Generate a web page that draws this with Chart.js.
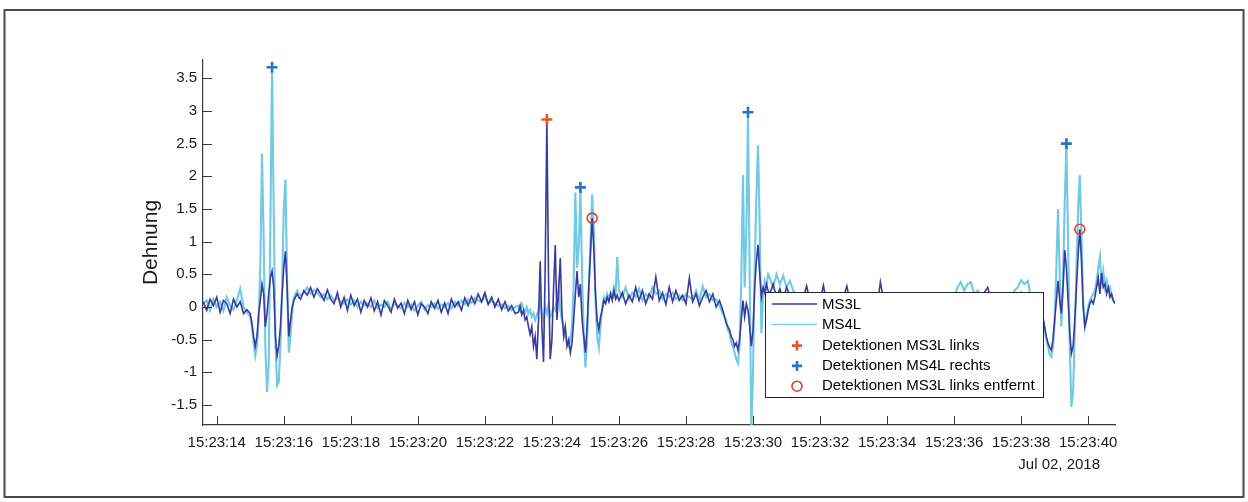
<!DOCTYPE html>
<html>
<head>
<meta charset="utf-8">
<script src="https://cdn.jsdelivr.net/npm/chart.js@4.4.1/dist/chart.umd.min.js"></script>
<style>
  html, body { margin: 0; padding: 0; background: #ffffff; }
  canvas { display: block; }
</style>
</head>
<body>
<canvas id="strain" width="1248" height="502"></canvas>
<script>
// Strain record 15:23:13.6 – 15:23:40.8 (seconds after 15:23:00), two gauges.
// Samples are stored per recording segment: time, MS3L value, MS4L value.

// quiet start
const secA  = [13.6,13.7,13.8,13.9,14.0,14.1,14.2,14.3,14.4,14.5,14.6,14.7,14.8,14.9];
const ms3lA = [0.08,-0.05,0.12,0.02,0.15,-0.08,0.1,0.05,-0.1,0.12,0.0,0.08,-0.1,-0.04];
const ms4lA = [0.05,0.1,-0.05,0.12,0.0,0.08,-0.06,0.15,0.02,-0.04,0.1,0.28,0.0,-0.08];

// first crossing
const secB  = [15.0,15.05,15.1,15.15,15.2,15.25,15.3,15.35,15.4,15.45,
               15.5,15.55,15.6,15.65,15.7,15.75,15.8,15.85,15.9,15.95,
               16.0,16.05,16.1,16.15,16.2,16.25,16.3,16.35,16.4,16.45];
const ms3lB = [-0.1,-0.25,-0.45,-0.6,-0.45,-0.1,0.1,0.35,0.2,-0.3,
               -0.1,0.2,0.45,0.55,0.3,-0.45,-0.75,-0.6,-0.3,0.2,
               0.6,0.85,0.3,-0.45,-0.2,0.0,0.1,0.15,0.2,0.15];
const ms4lB = [-0.15,-0.3,-0.55,-0.75,-0.6,-0.2,0.6,2.35,1.0,-0.6,
               -1.3,-0.9,1.2,3.67,1.5,-0.5,-1.2,-1.15,-0.6,0.3,
               1.5,1.95,0.4,-0.7,-0.45,-0.1,0.15,0.2,0.25,0.2];

// quiet
const secC  = [16.5,16.6,16.7,16.8,16.9,17.0,17.1,17.2,17.3,17.4,
               17.5,17.6,17.7,17.8,17.9,18.0,18.1,18.2,18.3,18.4,
               18.5,18.6,18.7,18.8,18.9,19.0,19.1,19.2,19.3,19.4,
               19.5,19.6,19.7,19.8,19.9,20.0,20.1,20.2,20.3,20.4,
               20.5,20.6,20.7,20.8,20.9,21.0,21.1,21.2,21.3,21.4,
               21.5,21.6,21.7,21.8,21.9,22.0,22.1,22.2,22.3,22.4,
               22.5,22.6,22.7,22.8,22.9];
const ms3lC = [0.12,0.25,0.18,0.3,0.15,0.28,0.2,0.1,0.26,0.12,
               0.05,0.22,0.0,0.15,-0.05,0.18,0.02,0.12,-0.08,0.1,
               0.0,0.14,-0.06,0.08,-0.12,0.1,0.02,-0.08,0.12,-0.02,
               0.06,-0.1,0.1,-0.04,0.08,-0.12,0.05,0.0,-0.1,0.08,
               -0.02,0.1,-0.08,0.06,-0.1,0.12,0.0,0.08,-0.05,0.14,
               0.02,0.16,0.05,0.2,0.08,0.22,0.04,0.15,0.0,0.12,
               -0.04,0.08,-0.06,0.02,-0.1];
const ms4lC = [0.18,0.22,0.3,0.2,0.26,0.22,0.15,0.2,0.12,0.18,
               0.1,0.14,0.08,0.05,0.12,0.04,0.1,0.0,0.08,0.02,
               0.06,0.0,0.1,-0.02,0.04,0.0,0.08,-0.04,0.05,0.02,
               -0.02,0.06,0.0,0.04,-0.06,0.02,0.08,-0.04,0.03,0.0,
               0.05,-0.03,0.04,0.0,0.06,-0.02,0.08,0.02,0.1,0.04,
               0.12,0.06,0.14,0.1,0.08,0.16,0.05,0.1,0.06,0.02,
               0.04,-0.02,0.02,-0.05,0.0];

// second crossing
const secD  = [23.0,23.05,23.1,23.15,23.2,23.25,23.3,23.35,23.4,23.45,
               23.5,23.55,23.6,23.65,23.7,23.75,23.8,23.85,23.9,23.95,
               24.0,24.05,24.1,24.15,24.2,24.25,24.3,24.35,24.4,24.45,
               24.5,24.55,24.6,24.65,24.7,24.75,24.8,24.85,24.9,24.95,
               25.0,25.05,25.1,25.15,25.2,25.25,25.3,25.35,25.4,25.45,
               25.5,25.55,25.6,25.65,25.7,25.75,25.8,25.85,25.9,25.95];
const ms3lD = [-0.08,0.02,-0.12,-0.05,-0.2,-0.15,-0.3,-0.42,-0.3,-0.6,
               -0.45,-0.8,-0.2,0.7,-0.3,-0.84,0.6,2.87,0.4,-0.8,
               -0.5,0.3,0.95,-0.2,0.25,0.75,-0.1,-0.45,-0.3,-0.6,
               -0.5,-0.7,-0.55,-0.2,0.2,0.55,0.15,0.35,-0.2,-0.45,
               -0.7,-0.3,0.3,0.8,1.36,0.9,0.2,-0.2,-0.35,-0.15,
               -0.05,0.1,0.05,0.15,0.08,0.2,0.1,0.25,0.12,0.18];
const ms4lD = [0.02,-0.05,0.05,-0.02,-0.08,0.0,-0.1,-0.05,-0.15,-0.1,
               -0.2,-0.12,-0.05,0.1,-0.1,-0.2,0.0,-0.1,0.05,-0.15,
               -0.1,0.0,-0.05,0.1,0.3,-0.05,-0.2,-0.3,-0.45,-0.55,
               -0.6,-0.5,-0.3,0.4,1.75,0.6,0.9,1.83,0.5,-0.4,
               -0.93,-0.5,0.3,1.0,1.72,1.2,0.1,-0.45,-0.62,-0.3,
               0.0,0.15,0.1,0.2,0.12,0.22,0.15,0.3,0.2,0.77];

// quiet
const secE  = [26.0,26.1,26.2,26.3,26.4,26.5,26.6,26.7,26.8,26.9,
               27.0,27.1,27.2,27.3,27.4,27.5,27.6,27.7,27.8,27.9,
               28.0,28.1,28.2,28.3,28.4,28.5,28.6,28.7,28.8,28.9,
               29.0,29.1,29.2];
const ms3lE = [0.1,0.22,0.05,0.18,0.08,0.3,0.1,0.25,0.05,0.2,
               0.12,0.46,0.1,0.22,0.04,0.3,0.08,0.25,0.1,0.18,
               0.05,0.44,0.08,0.2,0.02,0.15,0.25,0.08,0.2,0.0,
               0.1,-0.05,-0.25];
const ms4lE = [0.25,0.15,0.3,0.12,0.22,0.15,0.28,0.1,0.2,0.14,
               0.3,0.2,0.25,0.12,0.2,0.15,0.22,0.12,0.18,0.1,
               0.2,0.15,0.12,0.25,0.1,0.32,0.15,0.2,0.1,0.12,
               0.02,-0.1,-0.2];

// third crossing
const secF  = [29.25,29.3,29.35,29.4,29.45,29.5,29.55,29.6,29.65,29.7,
               29.75,29.8,29.85,29.9,29.95,30.0,30.05,30.1,30.15,30.2,
               30.25,30.3,30.35,30.4,30.45];
const ms3lF = [-0.3,-0.35,-0.45,-0.5,-0.6,-0.55,-0.66,-0.5,-0.2,0.1,
               -0.15,0.05,-0.05,-0.3,-0.6,-0.35,0.3,0.7,0.95,0.5,
               0.15,0.3,0.22,0.35,0.25];
const ms4lF = [-0.35,-0.4,-0.55,-0.6,-0.7,-0.8,-0.86,-0.6,0.4,2.02,
               0.3,1.1,2.98,0.5,-1.9,-1.0,0.6,1.7,2.48,1.2,
               -0.4,0.15,0.4,0.3,0.5];

// quiet
const secG  = [30.5,30.6,30.7,30.8,30.9,31.0,31.1,31.2,31.3,31.4,
               31.5,31.6,31.7,31.8,31.9,32.0,32.1,32.2,32.3,32.4,
               32.5,32.6,32.7,32.8,32.9,33.0,33.1,33.2,33.3,33.4,
               33.5,33.6,33.7,33.8,33.9,34.0,34.1,34.2,34.3,34.4,
               34.5,34.6,34.7,34.8,34.9,35.0,35.1,35.2,35.3,35.4,
               35.5,35.6,35.7,35.8,35.9,36.0,36.1,36.2,36.3,36.4,
               36.5,36.6,36.7,36.8,36.9,37.0,37.1,37.2,37.3,37.4,
               37.5,37.6,37.7,37.8,37.9,38.0,38.1,38.2,38.3,38.4,
               38.5];
const ms3lG = [0.2,0.35,0.15,0.28,0.1,0.3,0.18,0.05,0.2,0.1,
               0.15,0.32,0.08,0.12,0.0,0.1,0.33,0.05,0.12,0.02,
               0.1,0.0,0.15,0.32,0.05,0.12,-0.02,0.1,0.05,0.15,
               0.02,0.12,0.0,0.38,0.1,0.05,0.15,0.0,0.1,0.05,
               0.12,-0.02,0.1,0.05,0.15,0.0,0.1,0.08,0.12,0.02,
               0.1,0.05,0.15,0.0,0.12,0.08,0.18,0.05,0.15,0.1,
               0.2,0.08,0.15,0.1,0.22,0.3,0.12,0.2,0.05,0.15,
               0.1,0.2,0.05,0.15,0.1,0.22,0.08,0.1,0.0,-0.05,
               -0.1];
const ms4lG = [0.45,0.3,0.5,0.35,0.48,0.3,0.4,0.25,0.2,0.15,
               0.2,0.12,0.18,0.1,0.15,0.12,0.2,0.1,0.15,0.08,
               0.12,0.1,0.15,0.08,0.12,0.1,0.05,0.12,0.1,0.08,
               0.1,0.05,0.12,0.1,0.08,0.12,0.05,0.1,0.08,0.12,
               0.05,0.1,0.08,0.12,0.1,0.05,0.12,0.1,0.15,0.08,
               0.12,0.1,0.15,0.12,0.2,0.15,0.3,0.38,0.25,0.35,
               0.38,0.2,0.25,0.18,0.22,0.15,0.2,0.18,0.15,0.2,
               0.15,0.2,0.12,0.25,0.3,0.41,0.35,0.4,0.1,0.0,
               -0.05];

// fourth crossing
const secH  = [38.55,38.6,38.65,38.7,38.75,38.8,38.85,38.9,38.95,39.0,
               39.05,39.1,39.15,39.2,39.25,39.3,39.35,39.4,39.45,39.5,
               39.55,39.6,39.65,39.7,39.75,39.8,39.85,39.9,39.95,40.0,
               40.05,40.1,40.15,40.2,40.25,40.3,40.35,40.4,40.45,40.5,
               40.55,40.6,40.65,40.7,40.75,40.8];
const ms3lH = [-0.1,-0.12,-0.15,-0.3,-0.45,-0.55,-0.62,-0.66,-0.5,-0.2,
               0.1,0.4,0.1,-0.1,0.3,0.87,0.6,0.1,-0.4,-0.71,
               -0.6,-0.2,0.3,0.8,1.19,0.7,0.0,-0.3,-0.2,-0.05,
               0.05,0.1,0.05,0.15,0.3,0.45,0.2,0.52,0.3,0.35,
               0.2,0.3,0.15,0.2,0.1,0.05];
const ms4lH = [-0.1,-0.15,-0.2,-0.35,-0.5,-0.6,-0.72,-0.76,-0.6,-0.2,
               0.6,1.5,0.5,-0.3,0.4,1.6,2.5,1.0,-0.6,-1.53,
               -1.3,-0.4,0.6,1.5,2.02,1.1,0.1,-0.3,-0.15,0.0,
               0.1,0.15,0.2,0.25,0.4,0.6,0.77,0.35,0.55,0.3,
               0.4,0.25,0.3,0.15,0.1,0.05];

// detections
const detMs3lSec = [23.85];
const detMs3lVal = [2.87];
const detMs4lSec = [15.65, 24.85, 29.85, 39.35];
const detMs4lVal = [3.67, 1.83, 2.98, 2.5];
const removedSec = [25.2, 39.75];
const removedVal = [1.36, 1.19];

// axes
const xTickSec = [14,16,18,20,22,24,26,28,30,32,34,36,38,40];
const yTickVal = [-1.5,-1,-0.5,0,0.5,1,1.5,2,2.5,3,3.5];
const dateText = 'Jul 02, 2018';

const sampleSec = [...secA, ...secB, ...secC, ...secD, ...secE, ...secF, ...secG, ...secH];
const ms3l = [...ms3lA, ...ms3lB, ...ms3lC, ...ms3lD, ...ms3lE, ...ms3lF, ...ms3lG, ...ms3lH];
const ms4l = [...ms4lA, ...ms4lB, ...ms4lC, ...ms4lD, ...ms4lE, ...ms4lF, ...ms4lG, ...ms4lH];
if (sampleSec.length !== ms3l.length || sampleSec.length !== ms4l.length) {
  throw new Error('sample count mismatch: ' + sampleSec.length + ' / ' + ms3l.length + ' / ' + ms4l.length);
}

const toPoints = (xs, ys) => xs.map((x, i) => ({ x, y: ys[i] }));

const FONT = '"Liberation Sans", Arial, Helvetica, sans-serif';
const AXIS = '#3a3a3a';
const TEXT = '#1a1a1a';
const DARK = '#383b9c';
const LIGHT = '#72c9e4';
const ORANGE = '#e4572a';
const BLUE = '#2a74c6';
const RED = '#e3402a';

// white page with a thin outer frame
const pageFrame = {
  id: 'pageFrame',
  beforeDraw(chart) {
    const { ctx, width, height } = chart;
    ctx.save();
    ctx.fillStyle = '#ffffff';
    ctx.fillRect(0, 0, width, height);
    ctx.strokeStyle = '#4a4a4a';
    ctx.lineWidth = 2;
    ctx.strokeRect(4.5, 10, 1239, 487);
    ctx.restore();
  }
};

// tick marks pointing into the plot area
const innerTicks = {
  id: 'innerTicks',
  afterDatasetsDraw(chart) {
    const { ctx, chartArea, scales } = chart;
    ctx.save();
    ctx.strokeStyle = AXIS;
    ctx.lineWidth = 1;
    ctx.beginPath();
    scales.x.ticks.forEach(t => {
      const px = Math.round(scales.x.getPixelForValue(t.value)) + 0.5;
      ctx.moveTo(px, chartArea.bottom);
      ctx.lineTo(px, chartArea.bottom - 9);
    });
    scales.y.ticks.forEach(t => {
      const py = Math.round(scales.y.getPixelForValue(t.value)) + 0.5;
      ctx.moveTo(chartArea.left, py);
      ctx.lineTo(chartArea.left + 9, py);
    });
    ctx.stroke();
    ctx.restore();
  }
};

// date under the time axis
const dateStamp = {
  id: 'dateStamp',
  afterDraw(chart) {
    const { ctx, chartArea, scales } = chart;
    const last = xTickSec[xTickSec.length - 1];
    ctx.save();
    ctx.font = '15px ' + FONT;
    ctx.fillStyle = TEXT;
    ctx.textAlign = 'center';
    ctx.textBaseline = 'middle';
    ctx.fillText(dateText, scales.x.getPixelForValue(last) - 29, chartArea.bottom + 40);
    ctx.restore();
  }
};

// boxed legend inside the plot, lower right
const boxLegend = {
  id: 'boxLegend',
  afterDraw(chart) {
    const { ctx } = chart;
    const x0 = 765.5, y0 = 292.5, w = 278, h = 105, rowH = 20.3;
    const ds = chart.data.datasets;
    const order = [3, 4, 0, 1, 2];
    ctx.save();
    ctx.fillStyle = '#ffffff';
    ctx.fillRect(x0, y0, w, h);
    ctx.strokeStyle = '#262626';
    ctx.lineWidth = 1;
    ctx.strokeRect(x0, y0, w, h);
    ctx.font = '15px ' + FONT;
    ctx.textAlign = 'left';
    ctx.textBaseline = 'middle';
    order.forEach((idx, i) => {
      const d = ds[idx];
      const cy = y0 + 12.5 + i * rowH;
      const cx = 797;
      ctx.strokeStyle = d.borderColor;
      if (d.showLine === false) {
        ctx.lineWidth = d.pointBorderWidth;
        ctx.beginPath();
        if (d.pointStyle === 'cross') {
          ctx.moveTo(cx - 5, cy); ctx.lineTo(cx + 5, cy);
          ctx.moveTo(cx, cy - 5); ctx.lineTo(cx, cy + 5);
        } else {
          ctx.arc(cx, cy, 5, 0, Math.PI * 2);
        }
        ctx.stroke();
      } else {
        ctx.lineWidth = 1.3;
        ctx.beginPath();
        ctx.moveTo(772, cy - 1);
        ctx.lineTo(817, cy - 1);
        ctx.stroke();
      }
      ctx.fillStyle = '#000000';
      ctx.fillText(d.label, 822, cy);
    });
    ctx.restore();
  }
};

new Chart(document.getElementById('strain'), {
  type: 'line',
  data: {
    datasets: [
      { label: 'Detektionen MS3L links', data: toPoints(detMs3lSec, detMs3lVal), showLine: false,
        pointStyle: 'cross', pointRadius: 5.5, pointBorderWidth: 2.6,
        borderColor: ORANGE, backgroundColor: ORANGE },
      { label: 'Detektionen MS4L rechts', data: toPoints(detMs4lSec, detMs4lVal), showLine: false,
        pointStyle: 'cross', pointRadius: 5.5, pointBorderWidth: 2.6,
        borderColor: BLUE, backgroundColor: BLUE },
      { label: 'Detektionen MS3L links entfernt', data: toPoints(removedSec, removedVal), showLine: false,
        pointStyle: 'circle', pointRadius: 5, pointBorderWidth: 1.6,
        borderColor: RED, backgroundColor: 'rgba(0,0,0,0)' },
      { label: 'MS3L', data: toPoints(sampleSec, ms3l), borderColor: DARK, borderWidth: 1.6,
        pointRadius: 0, tension: 0, fill: false },
      { label: 'MS4L', data: toPoints(sampleSec, ms4l), borderColor: LIGHT, borderWidth: 2.1,
        pointRadius: 0, tension: 0, fill: false }
    ]
  },
  options: {
    responsive: false,
    animation: false,
    events: [],
    layout: { padding: { left: 0, top: 60, right: 133, bottom: 0 } },
    plugins: { legend: { display: false }, tooltip: { enabled: false } },
    scales: {
      x: {
        type: 'linear',
        min: 13.59,
        max: 40.8,
        afterBuildTicks: s => { s.ticks = xTickSec.map(v => ({ value: v })); },
        afterFit: s => { s.height = 77; },
        grid: { display: false, drawTicks: false },
        border: { display: true, color: AXIS, width: 1.2 },
        ticks: {
          autoSkip: false, maxRotation: 0, padding: 9, color: TEXT,
          font: { family: FONT, size: 15 },
          callback: v => '15:23:' + String(v).padStart(2, '0')
        }
      },
      y: {
        min: -1.806,
        max: 3.78,
        afterBuildTicks: s => { s.ticks = yTickVal.map(v => ({ value: v })); },
        afterFit: s => { s.width = 203; },
        grid: { display: false, drawTicks: false },
        border: { display: true, color: AXIS, width: 1.2 },
        ticks: {
          padding: 6, color: TEXT,
          font: { family: FONT, size: 15 },
          callback: v => String(v)
        },
        title: {
          display: true, text: 'Dehnung', color: TEXT,
          font: { family: FONT, size: 21 },
          padding: { top: 139, bottom: 0 }
        }
      }
    }
  },
  plugins: [pageFrame, innerTicks, dateStamp, boxLegend]
});
</script>
</body>
</html>
